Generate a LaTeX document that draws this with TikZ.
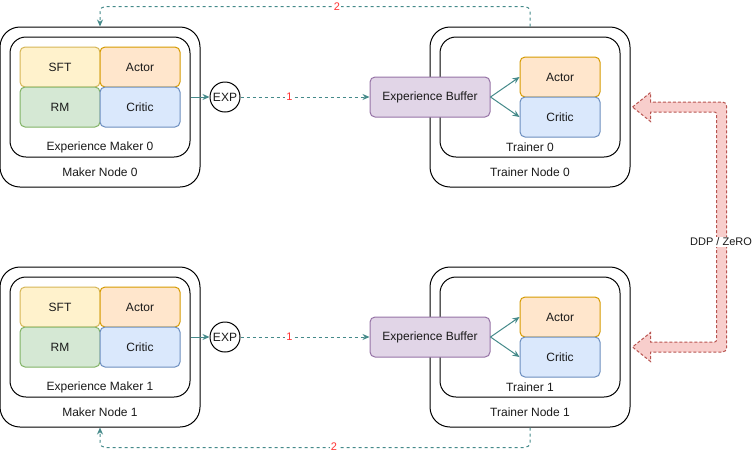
\documentclass[tikz,border=0pt]{standalone}
\usepackage{fontspec}
\setmainfont{Liberation Sans}
\usetikzlibrary{arrows.meta}
\definecolor{tealc}{HTML}{458A8A}
\definecolor{yfill}{HTML}{FFF2CC}\definecolor{ydraw}{HTML}{D6B656}
\definecolor{ofill}{HTML}{FFE6CC}\definecolor{odraw}{HTML}{D79B00}
\definecolor{gfill}{HTML}{D5E8D4}\definecolor{gdraw}{HTML}{82B366}
\definecolor{bfill}{HTML}{DAE8FC}\definecolor{bdraw}{HTML}{6C8EBF}
\definecolor{pfill}{HTML}{E1D5E7}\definecolor{pdraw}{HTML}{9673A6}
\definecolor{rfill}{HTML}{F8CECC}\definecolor{rdraw}{HTML}{B85450}
\definecolor{numred}{HTML}{FF3333}
\definecolor{txt}{HTML}{1A1A1A}
\begin{document}
\begin{tikzpicture}[x=1pt,y=-1pt,line width=1pt,
  font=\fontsize{12}{14}\selectfont, text=txt,
  nodebox/.style={draw=black, fill=white, rounded corners=20pt, minimum width=200pt, minimum height=160pt, inner sep=0pt},
  innerbox/.style={draw=black, fill=white, rounded corners=16pt, minimum width=180pt, minimum height=120pt, inner sep=0pt},
  cell/.style={rounded corners=5pt, minimum width=80pt, minimum height=40pt, inner sep=0pt},
  sftc/.style={cell, fill=yfill, draw=ydraw},
  actc/.style={cell, fill=ofill, draw=odraw},
  rmc/.style={cell, fill=gfill, draw=gdraw},
  critc/.style={cell, fill=bfill, draw=bdraw},
  bufbox/.style={cell, fill=pfill, draw=pdraw, minimum width=120pt},
  expc/.style={circle, draw=black, fill=white, minimum size=30pt, inner sep=0pt},
  lbl/.style={inner sep=0pt},
  conn/.style={draw=tealc, -{Stealth[length=7pt,width=6pt]}},
  dconn/.style={conn, dash pattern=on 3pt off 3pt},
  num/.style={fill=white, text=numred, inner sep=1pt, font=\fontsize{11}{13}\selectfont},
  flex/.style={draw=rdraw, fill=rfill, dash pattern=on 3pt off 2pt}]
\useasboundingbox (0,0) rectangle (754,456);

\foreach \i/\dy in {0/0,1/240}{
\begin{scope}[shift={(0,\dy)}]
  \node[nodebox] (mn\i) at (100,107) {};
  \node[lbl] (mnl\i) at (100,172) {Maker Node \i};
  \node[innerbox] (mi\i) at (100,97) {};
  \node[lbl] (mil\i) at (100,147) {Experience Maker \i};
  \node[sftc] (sft\i) at (60,67) {SFT};
  \node[actc] (ma\i) at (140,67) {Actor};
  \node[rmc] (rm\i) at (60,107) {RM};
  \node[critc] (mc\i) at (140,107) {Critic};
  \node[expc] (exp\i) at (225,97) {EXP};
  \node[nodebox] (tn\i) at (530,107) {};
  \node[lbl] (tnl\i) at (530,172) {Trainer Node \i};
  \node[innerbox] (ti\i) at (530,97) {};
  \node[lbl] (til\i) at (530,147) {Trainer \i};
  \node[actc] (ta\i) at (560,77) {Actor};
  \node[critc] (tc\i) at (560,117) {Critic};
  \node[bufbox] (buf\i) at (430,97) {Experience Buffer};
  \draw[conn] (mi\i.east) -- (exp\i);
  \draw[dconn] (exp\i) -- node[num, pos=0.38] (one\i) {1} (buf\i);
  \draw[conn] (buf\i.east) -- (ta\i.west);
  \draw[conn] (buf\i.east) -- (tc\i.west);
\end{scope}
}

% feedback connectors
\draw[dconn, rounded corners=5pt] (tn0.north) -- ++(0,-20) -| (mn0.north);
\node[num] (two0) at (337,7) {2};
\draw[dconn, rounded corners=5pt] (tn1.south) -- ++(0,20) -| (mn1.south);
\node[num] (two1) at (334,447) {2};

% DDP / ZeRO flex arrow
\draw[flex]
  ([shift={(2,0)}]tn0.east) -- ([shift={(20,-14.5)}]tn0.east) -- ([shift={(20,-5)}]tn0.east)
  -- ([shift={(70,-5)}]tn0.east) [rounded corners=4pt] -- ([shift={(96,-5)}]tn0.east)
  -- ([shift={(96,5)}]tn1.east) -- ([shift={(70,5)}]tn1.east) [sharp corners]
  -- ([shift={(20,5)}]tn1.east) -- ([shift={(20,14.5)}]tn1.east) -- ([shift={(2,0)}]tn1.east)
  -- ([shift={(20,-14.5)}]tn1.east) -- ([shift={(20,-5)}]tn1.east) -- ([shift={(70,-5)}]tn1.east)
  [rounded corners=2pt] -- ([shift={(86,-5)}]tn1.east) -- ([shift={(86,5)}]tn0.east)
  -- ([shift={(70,5)}]tn0.east) [sharp corners] -- ([shift={(20,5)}]tn0.east)
  -- ([shift={(20,14.5)}]tn0.east) -- cycle;
\node[fill=white, inner sep=1pt, font=\fontsize{11}{13}\selectfont] (ddp) at (721,242) {DDP / ZeRO};
\end{tikzpicture}
\end{document}
